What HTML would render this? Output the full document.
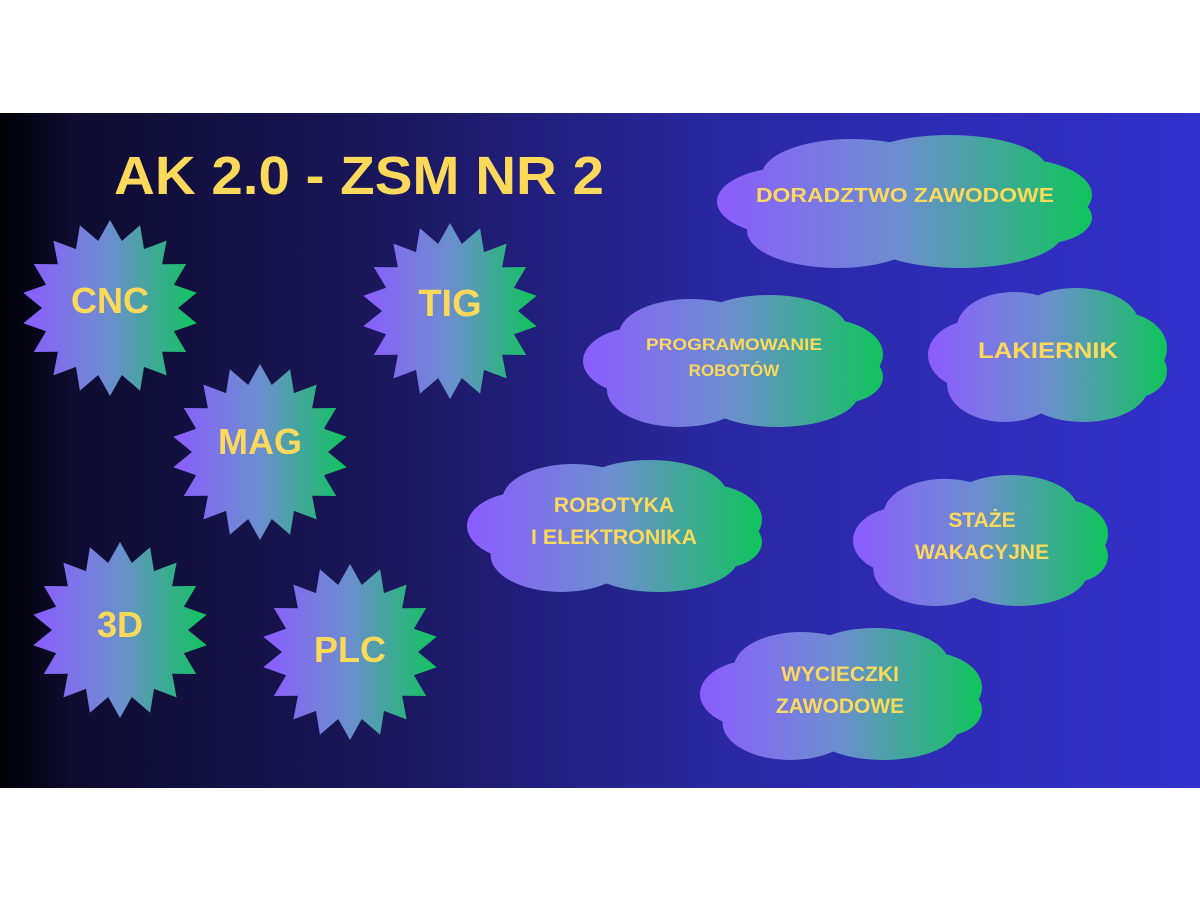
<!DOCTYPE html>
<html><head><meta charset="utf-8"><style>
html,body{margin:0;padding:0;background:#fff;width:1200px;height:900px;overflow:hidden}
svg{display:block}
text{font-family:"Liberation Sans",sans-serif;font-weight:bold;fill:#fcd95a;text-anchor:middle}
</style></head><body>
<svg width="1200" height="900" viewBox="0 0 1200 900" xmlns="http://www.w3.org/2000/svg">
<defs>
<linearGradient id="bg" x1="0" x2="1" y1="0" y2="0">
<stop offset="0" stop-color="#000005"/>
<stop offset="0.06" stop-color="#0e0c30"/>
<stop offset="0.3" stop-color="#191658"/>
<stop offset="0.6" stop-color="#2a28a2"/>
<stop offset="1" stop-color="#3330cc"/>
</linearGradient>
<linearGradient id="g" x1="0" x2="1" y1="0" y2="0">
<stop offset="0" stop-color="#8c5cff"/>
<stop offset="0.5" stop-color="#6b8fce"/>
<stop offset="1" stop-color="#10c45c"/>
</linearGradient>
<clipPath id="cloud" clipPathUnits="objectBoundingBox">
<ellipse cx="0.2" cy="0.5" rx="0.2" ry="0.26"/>
<ellipse cx="0.36" cy="0.3" rx="0.24" ry="0.27"/>
<ellipse cx="0.62" cy="0.26" rx="0.26" ry="0.26"/>
<ellipse cx="0.8" cy="0.45" rx="0.2" ry="0.27"/>
<ellipse cx="0.86" cy="0.62" rx="0.14" ry="0.2"/>
<ellipse cx="0.32" cy="0.72" rx="0.24" ry="0.28"/>
<ellipse cx="0.65" cy="0.74" rx="0.27" ry="0.26"/>
<ellipse cx="0.5" cy="0.5" rx="0.42" ry="0.38"/>
</clipPath>
<polygon id="star" points="0,-88 11.8,-67 30.1,-82.7 34,-58.9 56.6,-67.4 52.1,-43.7 76.2,-44 63.9,-23.3 86.7,-15.3 68,0 86.7,15.3 63.9,23.3 76.2,44 52.1,43.7 56.6,67.4 34,58.9 30.1,82.7 11.8,67 0,88 -11.8,67 -30.1,82.7 -34,58.9 -56.6,67.4 -52.1,43.7 -76.2,44 -63.9,23.3 -86.7,15.3 -68,0 -86.7,-15.3 -63.9,-23.3 -76.2,-44 -52.1,-43.7 -56.6,-67.4 -34,-58.9 -30.1,-82.7 -11.8,-67"/>
</defs>
<rect x="0" y="113" width="1200" height="675" fill="url(#bg)"/>
<text x="359" y="194" font-size="54" textLength="490" lengthAdjust="spacingAndGlyphs">AK 2.0 - ZSM NR 2</text>

<g fill="url(#g)">
<use href="#star" transform="translate(110,308)"/>
<use href="#star" transform="translate(450,311)"/>
<use href="#star" transform="translate(260,452)"/>
<use href="#star" transform="translate(120,630)"/>
<use href="#star" transform="translate(350,652)"/>
</g>
<text x="110" y="313" font-size="36">CNC</text>
<text x="450" y="316" font-size="38">TIG</text>
<text x="260" y="454" font-size="36">MAG</text>
<text x="120" y="637" font-size="36">3D</text>
<text x="350" y="662" font-size="36">PLC</text>

<g fill="url(#g)">
<rect x="717" y="135" width="375" height="133" clip-path="url(#cloud)"/>
<rect x="583" y="295" width="300" height="132" clip-path="url(#cloud)"/>
<rect x="928" y="288" width="239" height="134" clip-path="url(#cloud)"/>
<rect x="467" y="460" width="295" height="132" clip-path="url(#cloud)"/>
<rect x="853" y="475" width="255" height="131" clip-path="url(#cloud)"/>
<rect x="700" y="628" width="282" height="132" clip-path="url(#cloud)"/>
</g>
<text x="905" y="202" font-size="20" textLength="298" lengthAdjust="spacingAndGlyphs">DORADZTWO ZAWODOWE</text>
<text x="734" y="350" font-size="17" textLength="176" lengthAdjust="spacingAndGlyphs">PROGRAMOWANIE</text>
<text x="734" y="376" font-size="17">ROBOTÓW</text>
<text x="1048" y="358" font-size="22" textLength="140" lengthAdjust="spacingAndGlyphs">LAKIERNIK</text>
<text x="614" y="512" font-size="21">ROBOTYKA</text>
<text x="614" y="544" font-size="21" textLength="166" lengthAdjust="spacingAndGlyphs">I ELEKTRONIKA</text>
<text x="982" y="527" font-size="21">STAŻE</text>
<text x="982" y="559" font-size="21">WAKACYJNE</text>
<text x="840" y="681" font-size="21">WYCIECZKI</text>
<text x="840" y="713" font-size="21">ZAWODOWE</text>
</svg>
</body></html>
